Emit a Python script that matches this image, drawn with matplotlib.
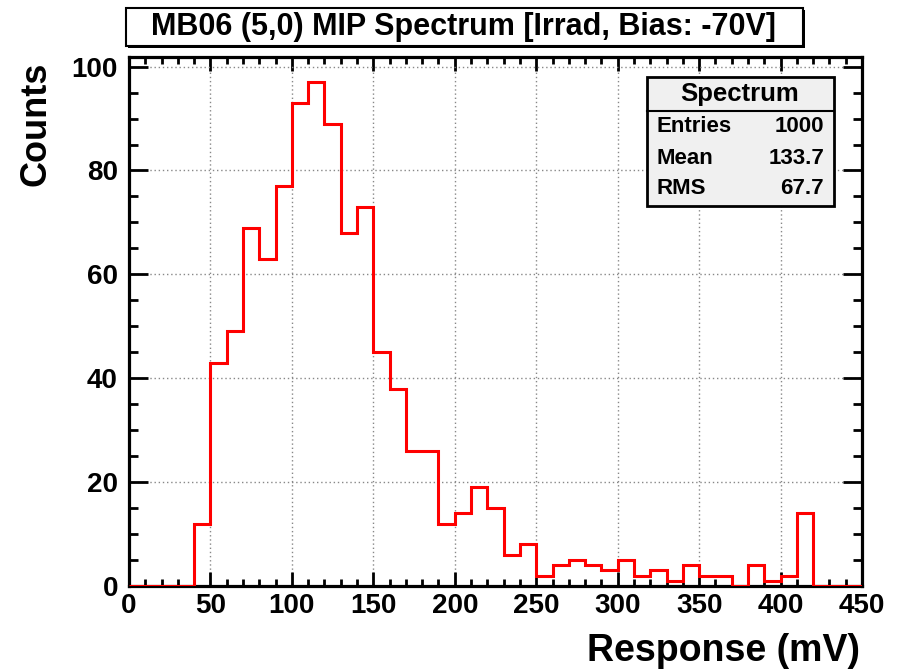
import numpy as np
import matplotlib
matplotlib.use('Agg')
import matplotlib.pyplot as plt
from matplotlib.patches import Rectangle
from matplotlib.ticker import MultipleLocator

# datos del histograma (bins de 10 mV)
bin_edges = np.arange(0, 460, 10)
counts = [0, 0, 0, 0, 12, 43, 49, 69, 63, 77, 93, 97, 89, 68, 73,
          45, 38, 26, 26, 12, 14, 19, 15, 6, 8, 2, 4, 5, 4, 3,
          5, 2, 3, 1, 4, 2, 2, 0, 4, 1, 2, 14, 0, 0, 0]
x_ticks = [0, 50, 100, 150, 200, 250, 300, 350, 400, 450]
y_ticks = [0, 20, 40, 60, 80, 100]

title = 'MB06 (5,0) MIP Spectrum [Irrad, Bias: -70V]'
stats_name = 'Spectrum'
stats_labels = ['Entries', 'Mean', 'RMS']
stats_values = ['1000', '133.7', '67.7']

plt.rcParams['font.family'] = ['Liberation Sans', 'DejaVu Sans']
plt.rcParams['font.weight'] = 'bold'

W, H = 901, 672
fig = plt.figure(figsize=(W / 100, H / 100), dpi=100)

def fx(px):
    return px / W

def fy(py):
    return 1 - py / H

# ejes principales
ax = fig.add_axes([fx(129), fy(586), fx(862) - fx(129), fy(57) - fy(586)])
ax.stairs(counts, bin_edges, color='#ff0000', lw=2.2, baseline=None, zorder=3)
ax.set_xlim(0, 450)
ax.set_ylim(0, 1.05 * max(counts))

ax.set_xticks(x_ticks)
ax.set_yticks(y_ticks)
ax.xaxis.set_minor_locator(MultipleLocator(10))
ax.yaxis.set_minor_locator(MultipleLocator(5))
ax.tick_params(axis='both', which='both', direction='in', top=True, right=True, width=2, labelsize=20, color='black')
ax.tick_params(axis='x', which='major', length=10, pad=5)
ax.tick_params(axis='x', which='minor', length=5)
ax.tick_params(axis='y', which='major', length=14, pad=8)
ax.tick_params(axis='y', which='minor', length=6.5)
for lab in ax.get_xticklabels() + ax.get_yticklabels():
    lab.set_fontweight('bold')
for sp in ax.spines.values():
    sp.set_linewidth(2.3)

ax.grid(True, which='major', color='#888888', linestyle=(0, (1, 2)), lw=1)
ax.set_axisbelow(True)

fig.text(fx(860), fy(651), 'Response (mV)', ha='right', va='center', fontsize=27, fontweight='bold')
fig.text(fx(36), fy(62), 'Counts', ha='center', va='top', rotation=90, fontsize=26, fontweight='bold')

# caja del título
fig.patches.append(Rectangle((fx(128), fy(48)), fx(803) - fx(126), fy(8) - fy(46),
                             transform=fig.transFigure, facecolor='black', edgecolor='none', zorder=1))
fig.patches.append(Rectangle((fx(126), fy(46)), fx(803) - fx(126), fy(8) - fy(46),
                             transform=fig.transFigure, facecolor='white', edgecolor='black', lw=1.5, zorder=2))
fig.text(fx(464), fy(27), title, ha='center', va='center', fontsize=22, fontweight='bold', zorder=3)

# caja de estadísticas
fig.patches.append(Rectangle((fx(647), fy(206)), fx(834) - fx(647), fy(77) - fy(206),
                             transform=fig.transFigure, facecolor='#f0f0f0', edgecolor='black', lw=2, zorder=5))
fig.add_artist(plt.Line2D([fx(647), fx(834)], [fy(111), fy(111)], transform=fig.transFigure,
                          color='black', lw=1.5, zorder=6))
fig.text(fx(740), fy(94), stats_name, ha='center', va='center', fontsize=18.5, fontweight='bold', zorder=7)
row_y = [127, 158, 188]
for lab, val, yy in zip(stats_labels, stats_values, row_y):
    fig.text(fx(657), fy(yy), lab, ha='left', va='center', fontsize=16, fontweight='bold', zorder=7)
    fig.text(fx(824), fy(yy), val, ha='right', va='center', fontsize=16, fontweight='bold', zorder=7)

fig.savefig('out.png', dpi=100)
